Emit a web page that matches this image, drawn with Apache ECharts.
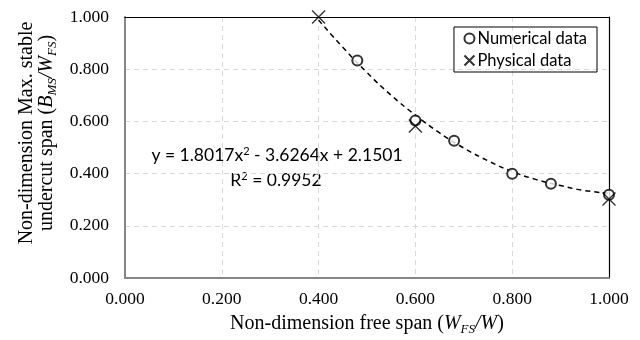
<!DOCTYPE html>
<html><head><meta charset="utf-8">
<script src="https://cdn.jsdelivr.net/npm/echarts@6/dist/echarts.min.js"></script>
<style>html,body{margin:0;padding:0;background:#fff}#c{width:640px;height:340px}</style>
</head><body><div id="c"></div>
<script>
// Data
const numericalX = [0.48, 0.60, 0.68, 0.80, 0.88, 1.00];
const numericalY = [0.833, 0.603, 0.526, 0.399, 0.361, 0.319];
const physicalX = [0.40, 0.60, 1.00];
const physicalY = [1.000, 0.582, 0.303];
const trendX = [0.40, 0.45, 0.50, 0.55, 0.60, 0.65, 0.70, 0.75, 0.80, 0.85, 0.90, 0.95, 1.00];
const trendY = [0.988, 0.884, 0.787, 0.700, 0.624, 0.556, 0.498, 0.449, 0.408, 0.377, 0.354, 0.335, 0.325];
const axisTicks = [0, 0.2, 0.4, 0.6, 0.8, 1.0];
const equationText = 'y = 1.8017x{sup|2} - 3.6264x + 2.1501';
const r2Text = 'R{sup|2} = 0.9952';

const zip = (a, b) => a.map((v, i) => [v, b[i]]);
const serif = 'Liberation Serif';
const sans = 'Lato';
const crossPath = 'path://M0,0L10,10M10,0L0,10';

const chart = echarts.init(document.getElementById('c'));
const axisCommon = {
  type: 'value', min: axisTicks[0], max: axisTicks[axisTicks.length - 1], interval: 0.2,
  axisLine: { show: true, lineStyle: { color: '#868686', width: 2 } },
  axisTick: { show: false },
  splitLine: { show: true, lineStyle: { color: '#d9d9d9', type: [5, 4], width: 1 } },
  axisLabel: { formatter: v => v.toFixed(3), fontFamily: serif, fontSize: 17.5, color: '#000' }
};
const borderAxis = (pos) => ({
  type: 'value', position: pos, min: 0, max: 1, interval: 0.2,
  axisLine: { show: true, onZero: false, lineStyle: { color: '#000', width: 1.2 } },
  axisTick: { show: false }, axisLabel: { show: false }, splitLine: { show: false }
});
const supRich = { sup: { fontSize: 11, verticalAlign: 'top', padding: [0, 0, 8, 0], fontFamily: sans } };
const titleRich = { i: { fontStyle: 'italic', fontFamily: serif, fontSize: 20 }, is: { fontStyle: 'italic', fontFamily: serif, fontSize: 13, padding: [12, 0, 0, 0] } };
chart.setOption({
  animation: false,
  grid: { left: 125, right: 31, top: 17, bottom: 62 },
  xAxis: [
    Object.assign({}, axisCommon, { axisLabel: Object.assign({}, axisCommon.axisLabel, { margin: 12 }) }),
    borderAxis('top')
  ],
  yAxis: [
    Object.assign({}, axisCommon, { axisLabel: Object.assign({}, axisCommon.axisLabel, { margin: 16 }) }),
    borderAxis('right')
  ],
  legend: {
    data: ['Numerical data', 'Physical data'],
    orient: 'vertical', right: 43, top: 27,
    itemWidth: 10, itemHeight: 10, itemGap: 5,
    padding: [3, 10, 3, 8],
    borderColor: '#000', borderWidth: 1,
    textStyle: { fontFamily: sans, fontSize: 16.5, color: '#000', padding: [0, 0, 0, -2] }
  },
  graphic: [
    { type: 'text', x: 277, y: 155, style: { text: equationText, fontFamily: sans, fontSize: 17.5, fill: '#000',
      align: 'center', verticalAlign: 'middle', rich: supRich } },
    { type: 'text', x: 276, y: 180, style: { text: r2Text, fontFamily: sans, fontSize: 17.5, fill: '#000',
      align: 'center', verticalAlign: 'middle', rich: supRich } },
    { type: 'text', x: 367, y: 324, style: {
      text: 'Non-dimension free span ({i|W}{is|FS}{i|/W})', fontFamily: serif, fontSize: 20, fill: '#000',
      align: 'center', verticalAlign: 'middle', rich: titleRich } },
    { type: 'text', x: 37, y: 133, rotation: Math.PI / 2, style: {
      text: 'Non-dimension Max. stable\nundercut span ({i|B}{is|MS}{i|/W}{is|FS})', fontFamily: serif, fontSize: 20, fill: '#000',
      align: 'center', verticalAlign: 'middle', lineHeight: 20, rich: titleRich } }
  ],
  series: [
    { name: 'Trend', type: 'line', data: zip(trendX, trendY), smooth: true, showSymbol: false, silent: true,
      lineStyle: { color: '#000', width: 1.5, type: [5, 4] }, z: 1 },
    { name: 'Numerical data', type: 'scatter', data: zip(numericalX, numericalY), symbol: 'emptyCircle', symbolSize: 10,
      itemStyle: { color: '#000', borderColor: '#000', borderWidth: 1.6 }, z: 3 },
    { name: 'Physical data', type: 'scatter', data: zip(physicalX, physicalY), symbol: crossPath, symbolSize: 13,
      itemStyle: { color: 'none', borderColor: '#000', borderWidth: 1.4 }, z: 4 }
  ]
});
</script></body></html>
